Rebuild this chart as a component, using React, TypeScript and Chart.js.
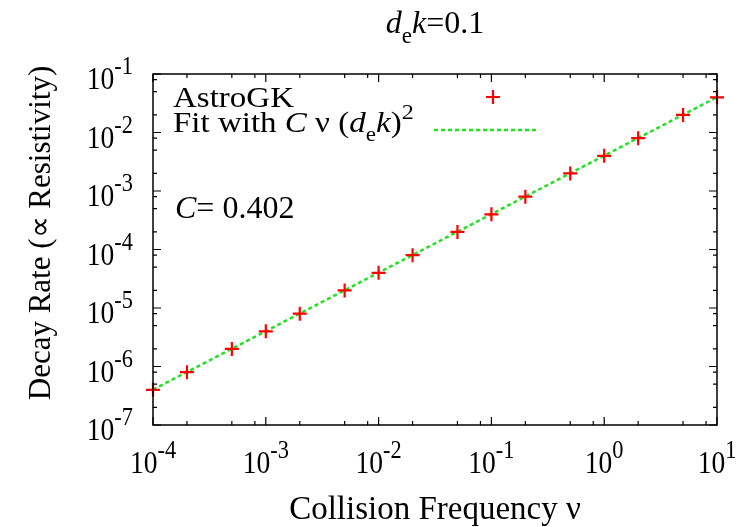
import React, { useEffect, useRef } from "react";
import { Chart, registerables } from "chart.js";

Chart.register(...registerables);

// ---- data ----
const nuValues = [1e-4, 2e-4, 5e-4, 1e-3, 2e-3, 5e-3, 1e-2, 2e-2, 5e-2, 0.1, 0.2, 0.5, 1, 2, 5, 10];
const decayRates = [4.0e-7, 8.0e-7, 2.0e-6, 4.0e-6, 8.0e-6, 2.0e-5, 4.0e-5, 8.0e-5, 2.0e-4, 4.0e-4, 8.0e-4, 2.0e-3, 4.0e-3, 8.0e-3, 2.0e-2, 4.0e-2];
const fitNu = [1e-4, 10];
const fitRates = [4.02e-7, 4.02e-2];
const xTickExponents = [-4, -3, -2, -1, 0, 1];
const yTickExponents = [-7, -6, -5, -4, -3, -2, -1];
const minorMultipliers = [2, 5, 8];
const fitConstantText = "0.402";

const FAM = "'Liberation Serif','Times New Roman',serif";
const RED = "#ff0000";
const GREEN = "#22e022";

type Run = { t: string; size: number; it?: boolean; dy?: number };

function fontOf(r: Run) {
  return `${r.it ? "italic " : ""}${r.size}px ${FAM}`;
}

function drawRuns(
  ctx: CanvasRenderingContext2D,
  runs: Run[],
  x: number,
  y: number,
  align: "left" | "center" | "right",
  sx = 1
) {
  let total = 0;
  const ws = runs.map((r) => {
    ctx.font = fontOf(r);
    const w = ctx.measureText(r.t).width;
    total += w;
    return w;
  });
  const start = align === "left" ? 0 : align === "center" ? -total / 2 : -total;
  ctx.save();
  ctx.translate(x, y);
  ctx.scale(sx, 1);
  ctx.textAlign = "left";
  ctx.textBaseline = "alphabetic";
  ctx.fillStyle = "#000";
  let cx = start;
  runs.forEach((r, i) => {
    ctx.font = fontOf(r);
    ctx.fillText(r.t, cx, r.dy || 0);
    cx += ws[i];
  });
  ctx.restore();
}

const decorPlugin = {
  id: "gnuplotDecor",
  afterDatasetsDraw(chart: any) {
    const ctx: CanvasRenderingContext2D = chart.ctx;
    const xs = chart.scales.x;
    const ys = chart.scales.y;
    const { left, right, top, bottom } = chart.chartArea;

    ctx.save();
    // frame
    ctx.strokeStyle = "#000";
    ctx.lineWidth = 1.5;
    ctx.strokeRect(left, top, right - left, bottom - top);

    // ticks
    ctx.lineWidth = 1.2;
    const majorLen = 8;
    const minorLen = 4;
    const xMin = xs.min, xMax = xs.max, yMin = ys.min, yMax = ys.max;
    ctx.beginPath();
    for (const e of xTickExponents) {
      const base = Math.pow(10, e);
      const px = xs.getPixelForValue(base);
      ctx.moveTo(px, bottom); ctx.lineTo(px, bottom - majorLen);
      ctx.moveTo(px, top); ctx.lineTo(px, top + majorLen);
      for (const m of minorMultipliers) {
        const v = m * base;
        if (v <= xMin || v >= xMax) continue;
        const p = xs.getPixelForValue(v);
        ctx.moveTo(p, bottom); ctx.lineTo(p, bottom - minorLen);
        ctx.moveTo(p, top); ctx.lineTo(p, top + minorLen);
      }
    }
    for (const e of yTickExponents) {
      const base = Math.pow(10, e);
      const py = ys.getPixelForValue(base);
      ctx.moveTo(left, py); ctx.lineTo(left + majorLen, py);
      ctx.moveTo(right, py); ctx.lineTo(right - majorLen, py);
      for (const m of minorMultipliers) {
        const v = m * base;
        if (v <= yMin || v >= yMax) continue;
        const p = ys.getPixelForValue(v);
        ctx.moveTo(left, p); ctx.lineTo(left + minorLen, p);
        ctx.moveTo(right, p); ctx.lineTo(right - minorLen, p);
      }
    }
    ctx.stroke();

    // tick labels
    const tickSx = 0.86;
    for (const e of xTickExponents) {
      const px = xs.getPixelForValue(Math.pow(10, e));
      drawRuns(ctx, [{ t: "10", size: 32 }, { t: String(e), size: 26, dy: -15 }], px, bottom + 48, "center", tickSx);
    }
    for (const e of yTickExponents) {
      const py = ys.getPixelForValue(Math.pow(10, e));
      drawRuns(ctx, [{ t: "10", size: 32 }, { t: String(e), size: 26, dy: -15 }], left - 20, py + 15, "right", tickSx);
    }

    // title
    const cxPlot = (left + right) / 2;
    drawRuns(
      ctx,
      [
        { t: "d", size: 32, it: true },
        { t: "e", size: 23, dy: 10 },
        { t: "k", size: 32, it: true },
        { t: "=0.1", size: 32 },
      ],
      cxPlot,
      33,
      "center"
    );

    // x axis label
    drawRuns(ctx, [{ t: "Collision Frequency ν", size: 33 }], cxPlot, 519, "center");

    // y axis label
    ctx.save();
    ctx.translate(50, 233);
    ctx.rotate(-Math.PI / 2);
    drawRuns(ctx, [{ t: "Decay Rate (∝ Resistivity)", size: 31 }], 0, 0, "center");
    ctx.restore();

    // legend
    const lgSize = 30;
    const lgSx = 1.1;
    drawRuns(ctx, [{ t: "AstroGK", size: lgSize }], 173, 107, "left", lgSx);
    drawRuns(
      ctx,
      [
        { t: "Fit with ", size: lgSize },
        { t: "C", size: lgSize, it: true },
        { t: " ν (", size: lgSize },
        { t: "d", size: lgSize, it: true },
        { t: "e", size: 21, dy: 9 },
        { t: "k", size: lgSize, it: true },
        { t: ")", size: lgSize },
        { t: "2", size: 22, dy: -13 },
      ],
      173,
      132,
      "left",
      lgSx
    );
    // legend samples
    ctx.strokeStyle = RED;
    ctx.lineWidth = 2.2;
    ctx.beginPath();
    ctx.moveTo(493 - 7, 97); ctx.lineTo(493 + 7, 97);
    ctx.moveTo(493, 97 - 7); ctx.lineTo(493, 97 + 7);
    ctx.stroke();
    ctx.strokeStyle = GREEN;
    ctx.lineWidth = 2.5;
    ctx.setLineDash([4, 3]);
    ctx.beginPath();
    ctx.moveTo(434, 130); ctx.lineTo(539, 130);
    ctx.stroke();
    ctx.setLineDash([]);

    // annotation
    drawRuns(
      ctx,
      [
        { t: "C", size: 32, it: true },
        { t: "= " + fitConstantText, size: 32 },
      ],
      175,
      218,
      "left"
    );
    ctx.restore();
  },
};

export default function App() {
  const ref = useRef<HTMLCanvasElement | null>(null);
  useEffect(() => {
    if (!ref.current) return;
    const chart = new Chart(ref.current, {
      type: "scatter",
      data: {
        datasets: [
          {
            label: "AstroGK",
            data: nuValues.map((x, i) => ({ x, y: decayRates[i] })),
            pointStyle: "cross",
            pointRadius: 7,
            pointBorderWidth: 2.2,
            borderColor: RED,
            backgroundColor: RED,
            showLine: false,
            clip: false as any,
          },
          {
            label: "Fit",
            data: fitNu.map((x, i) => ({ x, y: fitRates[i] })),
            showLine: true,
            borderColor: GREEN,
            borderWidth: 2.5,
            borderDash: [4, 3],
            pointRadius: 0,
            fill: false,
            clip: false as any,
          },
        ],
      },
      options: {
        animation: false,
        responsive: false,
        events: [],
        layout: { padding: { left: 153, right: 35, top: 74, bottom: 102 } },
        plugins: { legend: { display: false }, tooltip: { enabled: false }, title: { display: false } },
        scales: {
          x: { type: "logarithmic", min: 1e-4, max: 10, display: false },
          y: { type: "logarithmic", min: 1e-7, max: 1e-1, display: false },
        },
      },
      plugins: [decorPlugin],
    });
    return () => chart.destroy();
  }, []);
  return (
    <div style={{ position: "fixed", left: 0, top: 0, width: 752, height: 527, background: "#fff" }}>
      <canvas ref={ref} width={752} height={527} style={{ width: 752, height: 527, display: "block" }} />
    </div>
  );
}
